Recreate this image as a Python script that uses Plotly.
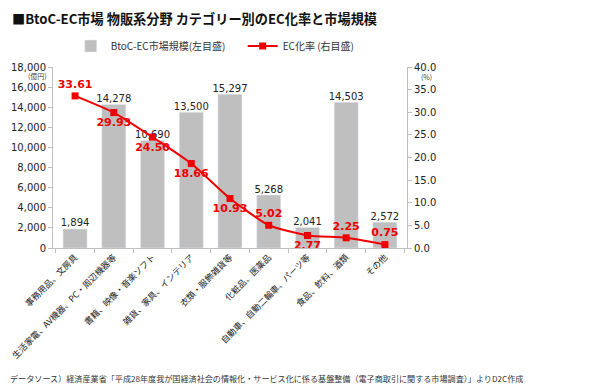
import plotly.graph_objects as go

categories = ["事務用品、文房具", "生活家電、AV機器、PC・周辺機器等", "書籍、映像・音楽ソフト",
              "雑貨、家具、インテリア", "衣類・服飾雑貨等", "化粧品、医薬品",
              "自動車、自動二輪車、パーツ等", "食品、飲料、酒類", "その他"]
market_size = [1894, 14278, 10690, 13500, 15297, 5268, 2041, 14503, 2572]
ec_rate = [33.61, 29.93, 24.50, 18.66, 10.93, 5.02, 2.77, 2.25, 0.75]
rate_label_pos = ["top center", "bottom center", "bottom center", "bottom center", "bottom center",
                  "top center", "bottom center", "top center", "top center"]
left_ticks = [0, 2000, 4000, 6000, 8000, 10000, 12000, 14000, 16000, 18000]
right_ticks = [0, 5, 10, 15, 20, 25, 30, 35, 40]

FONT = "DejaVu Sans, Noto Sans CJK JP, sans-serif"
JP = "Noto Sans CJK JP, sans-serif"

fig = go.Figure()
fig.add_trace(go.Bar(
    x=categories, y=market_size, name="BtoC-EC市場規模(左目盛)",
    marker_color="#bfbfbf",
))
fig.add_trace(go.Scatter(
    x=categories, y=market_size, mode="text", showlegend=False,
    text=[f"{v:,}" for v in market_size], textposition="top center",
    textfont=dict(size=10, color="#222", family=FONT), cliponaxis=False, hoverinfo="skip",
))
fig.add_trace(go.Scatter(
    x=categories, y=ec_rate, name="EC化率 (右目盛)", yaxis="y2",
    mode="lines+markers+text", line=dict(color="#ee0000", width=2, shape="spline", smoothing=0.5),
    marker=dict(symbol="square", size=7, color="#ee0000"),
    text=[f"{v:.2f}" for v in ec_rate], textposition=rate_label_pos,
    textfont=dict(size=11, color="#ee0000", family=FONT, weight="bold"),
    cliponaxis=False,
))

fig.update_layout(
    width=592, height=382, margin=dict(l=45, r=193, t=59, b=142, autoexpand=False),
    plot_bgcolor="white", paper_bgcolor="white",
    font=dict(family=FONT, size=10, color="#222"),
    bargap=0.38,
    showlegend=True,
    legend=dict(orientation="h", x=0.05, y=1.116, xanchor="left", yanchor="middle",
                font=dict(size=10, family=JP, color="#333"), entrywidth=127,
                bgcolor="rgba(0,0,0,0)", traceorder="normal", tracegroupgap=0),
    xaxis=dict(showline=True, linecolor="#bfbfbf", ticks="outside", tickson="boundaries",
               tickcolor="#bfbfbf", ticklen=4, tickangle=-45, automargin=False,
               tickfont=dict(size=8.7, family=JP, color="#222")),
    yaxis=dict(range=[0, 18000], tickvals=left_ticks, tickformat=",", showgrid=False,
               showline=True, linecolor="#bfbfbf", ticks="outside", tickcolor="#bfbfbf",
               ticklen=4, tickfont=dict(size=10), zeroline=False, automargin=False),
    yaxis2=dict(range=[0, 40], tickvals=right_ticks, tickformat=".1f", overlaying="y",
                side="right", showgrid=False, showline=True, linecolor="#bfbfbf",
                ticks="outside", tickcolor="#bfbfbf", ticklen=4, tickfont=dict(size=10),
                zeroline=False, automargin=False),
    annotations=[
        dict(text="<b>■BtoC-EC市場 物販系分野 カテゴリー別のEC化率と市場規模</b>",
             xref="paper", yref="paper", x=-0.121, y=1.27, xanchor="left", yanchor="middle",
             showarrow=False, font=dict(size=13.2, family=JP, color="#111")),
        dict(text="(億円)", xref="paper", yref="paper", x=-0.045, y=0.95, showarrow=False,
             font=dict(size=7, family=JP, color="#444"), xanchor="center", yanchor="middle"),
        dict(text="(%)", xref="paper", yref="paper", x=1.055, y=0.945, showarrow=False,
             font=dict(size=7, family=JP, color="#444"), xanchor="center", yanchor="middle"),
        dict(text="データソース）経済産業省「平成28年度我が国経済社会の情報化・サービス化に係る基盤整備（電子商取引に関する市場調査）」よりD2C作成",
             xref="paper", yref="paper", x=-0.127, y=-0.72, showarrow=False, xanchor="left",
             yanchor="middle", font=dict(size=8.1, family=JP, color="#333")),
    ],
)

fig.write_html("out.html")
